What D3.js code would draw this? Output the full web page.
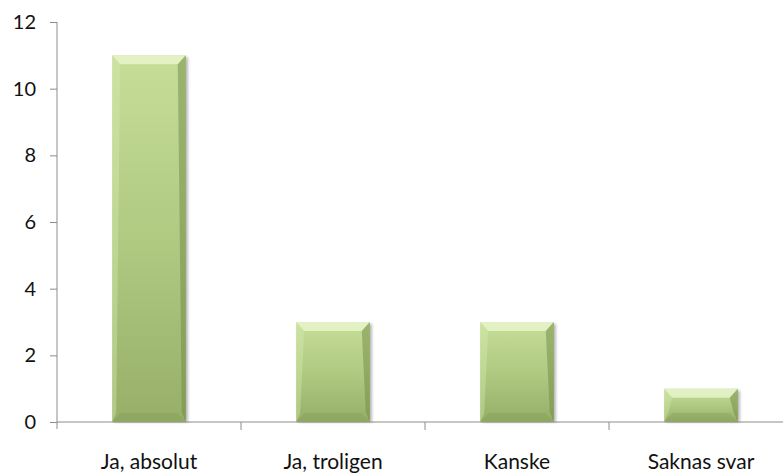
<!DOCTYPE html>
<html>
<head>
<meta charset="utf-8">
<script src="https://cdnjs.cloudflare.com/ajax/libs/d3/7.8.5/d3.min.js"></script>
<style>
  body { margin: 0; background: #fff; }
  svg { display: block; }
  text { font-family: Lato, "Liberation Sans", sans-serif; fill: #111; }
</style>
</head>
<body>
<div id="chart"></div>
<script>
// answers and counts
var categories = ["Ja, absolut", "Ja, troligen", "Kanske", "Saknas svar"];
var counts = [11, 3, 3, 1];
var yTicks = [0, 2, 4, 6, 8, 10, 12];

var w = 783;
var h = 473;
var svg = d3.select("#chart").append("svg")
    .attr("width", w)
    .attr("height", h);

var defs = svg.append("defs");

// main body gradient, light at top and darker towards the bottom
var body = defs.append("linearGradient")
    .attr("id", "barBody")
    .attr("x1", 0).attr("y1", 0).attr("x2", 0).attr("y2", 1);
body.append("stop").attr("offset", "0%").attr("stop-color", "#c6dd98");
body.append("stop").attr("offset", "50%").attr("stop-color", "#b0ca82");
body.append("stop").attr("offset", "100%").attr("stop-color", "#97af69");

var shadow = defs.append("filter")
    .attr("id", "shadow")
    .attr("x", "-20%").attr("y", "-20%").attr("width", "140%").attr("height", "140%");
shadow.append("feGaussianBlur").attr("stdDeviation", 1.5);

var xScale = d3.scaleBand()
    .domain(categories)
    .range([57, 793])
    .paddingInner(0.6)
    .paddingOuter(0.3);

var yScale = d3.scaleLinear()
    .domain([0, 12])
    .range([422, 22]);

// y axis
var yAxis = svg.append("g")
    .attr("transform", "translate(57,0)")
    .call(d3.axisLeft(yScale).tickValues(yTicks).tickSize(7).tickPadding(14));
yAxis.select(".domain").attr("stroke", "#8c8c8c").attr("d", "M0,22V429");
yAxis.selectAll(".tick line").attr("stroke", "#8c8c8c");
yAxis.selectAll(".tick text").style("font-size", "20px").attr("fill", "#111");

// x axis line and category separators
var xAxis = svg.append("g").attr("class", "x-axis");
xAxis.append("line")
    .attr("x1", 57).attr("x2", w)
    .attr("y1", yScale(0)).attr("y2", yScale(0))
    .attr("stroke", "#8c8c8c");
xAxis.selectAll(".sep")
    .data(categories.slice(1))
    .enter()
    .append("line")
    .attr("class", "sep")
    .attr("x1", function(d) { return xScale(d) - xScale.bandwidth() * 0.75; })
    .attr("x2", function(d) { return xScale(d) - xScale.bandwidth() * 0.75; })
    .attr("y1", yScale(0)).attr("y2", yScale(0) + 8)
    .attr("stroke", "#8c8c8c");

xAxis.selectAll(".cat")
    .data(categories)
    .enter()
    .append("text")
    .attr("class", "cat")
    .attr("x", function(d) { return xScale(d) + xScale.bandwidth() / 2; })
    .attr("y", 469)
    .attr("text-anchor", "middle")
    .style("font-size", "21px")
    .text(function(d) { return d; });

// bars with a bevel look
var bars = svg.selectAll(".bar")
    .data(categories.map(function(c, i) { return { cat: c, value: counts[i] }; }))
    .enter()
    .append("g")
    .attr("class", "bar");

bars.append("rect")
    .attr("x", function(d) { return xScale(d.cat) + 2; })
    .attr("y", function(d) { return yScale(d.value) + 2; })
    .attr("width", xScale.bandwidth())
    .attr("height", function(d) { return yScale(0) - yScale(d.value) - 2; })
    .attr("fill", "#000")
    .attr("opacity", 0.3)
    .attr("filter", "url(#shadow)");

bars.append("rect")
    .attr("x", function(d) { return xScale(d.cat); })
    .attr("y", function(d) { return yScale(d.value); })
    .attr("width", xScale.bandwidth())
    .attr("height", function(d) { return yScale(0) - yScale(d.value); })
    .attr("fill", "url(#barBody)");

var bev = 9;
var side = 4;
function facet(d, which) {
    var x0 = xScale(d.cat), x1 = x0 + xScale.bandwidth();
    var y0 = yScale(d.value), y1 = yScale(0);
    var b = Math.min(bev, (y1 - y0) / 2);
    var pts;
    if (which === "top") pts = [[x0, y0], [x1, y0], [x1 - side * 2, y0 + b], [x0 + side * 2, y0 + b]];
    if (which === "bottom") pts = [[x0, y1], [x1, y1], [x1 - side * 2, y1 - b], [x0 + side * 2, y1 - b]];
    if (which === "left") pts = [[x0, y0], [x0 + side * 2, y0 + b], [x0 + side, y1 - b], [x0, y1]];
    if (which === "right") pts = [[x1, y0], [x1 - side * 2, y0 + b], [x1 - side, y1 - b], [x1, y1]];
    return pts.map(function(p) { return p.join(","); }).join(" ");
}

bars.append("polygon")
    .attr("points", function(d) { return facet(d, "top"); })
    .attr("fill", "#eaf6cf").attr("opacity", 0.8);
bars.append("polygon")
    .attr("points", function(d) { return facet(d, "left"); })
    .attr("fill", "#d8eab0").attr("opacity", 0.4);
bars.append("polygon")
    .attr("points", function(d) { return facet(d, "right"); })
    .attr("fill", "#6f8a45").attr("opacity", 0.5);
bars.append("polygon")
    .attr("points", function(d) { return facet(d, "bottom"); })
    .attr("fill", "#7f9856").attr("opacity", 0.35);
</script>
</body>
</html>
